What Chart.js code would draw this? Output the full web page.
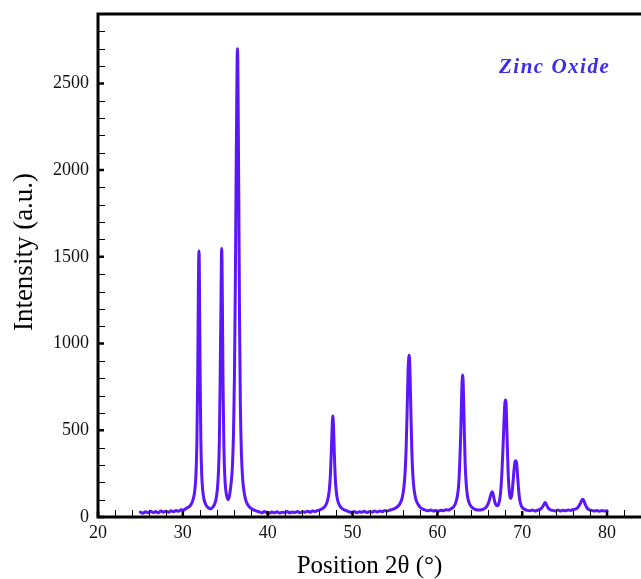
<!DOCTYPE html>
<html>
<head>
<meta charset="utf-8">
<title>Zinc Oxide XRD</title>
<script src="https://cdn.jsdelivr.net/npm/chart.js@4.4.1/dist/chart.umd.min.js"></script>
<style>
  html, body { margin: 0; padding: 0; background: #fff; }
  #wrap { position: relative; width: 641px; height: 579px; }
</style>
</head>
<body>
<div id="wrap"><canvas id="xrdChart"></canvas></div>
<script>
// Diffraction angle (2 theta, degrees)
var angles = [
  25.0, 25.3, 25.6, 25.9, 26.2, 26.5, 26.8, 27.1, 27.4, 27.7, 28.0, 28.3, 28.6, 28.9, 29.2, 29.5, 29.8, 30.1, 30.4, 30.7, 31.0, 31.2, 31.4,
  31.55, 31.65, 31.75, 31.82, 31.86, 31.9, 31.94, 31.98, 32.04, 32.12, 32.22, 32.35, 32.5, 32.7, 32.9, 33.1, 33.3, 33.5, 33.7, 33.9, 34.05,
  34.2, 34.3, 34.4, 34.5, 34.54, 34.58, 34.62, 34.67, 34.74, 34.84, 34.95, 35.05, 35.15, 35.25, 35.35, 35.45, 35.55, 35.7,
  35.85, 35.97, 36.08, 36.18, 36.27, 36.36, 36.4, 36.44, 36.48, 36.53, 36.6, 36.68, 36.78, 36.9, 37.05, 37.2, 37.4, 37.6, 37.85, 38.1, 38.4, 38.7,
  39.0, 39.3, 39.6, 39.9, 40.2, 40.5, 40.8, 41.1, 41.4, 41.7, 42.0, 42.3, 42.6, 42.9, 43.2, 43.5, 43.8, 44.1, 44.4, 44.7, 45.0, 45.3, 45.6, 45.9, 46.2, 46.5, 46.8, 47.05,
  47.25, 47.4, 47.5, 47.6, 47.64, 47.68, 47.72, 47.78, 47.86, 47.97, 48.1, 48.25, 48.45, 48.7, 49.0, 49.3,
  49.6, 49.9, 50.2, 50.5, 50.8, 51.1, 51.4, 51.7, 52.0, 52.3, 52.6, 52.9, 53.2, 53.5, 53.8, 54.1, 54.4, 54.7, 55.0, 55.3, 55.6, 55.85,
  56.05, 56.2, 56.32, 56.44, 56.55, 56.62, 56.67, 56.72, 56.79, 56.88, 56.98, 57.1, 57.25, 57.45, 57.7, 58.0, 58.3, 58.6,
  58.9, 59.2, 59.5, 59.8, 60.1, 60.4, 60.7, 61.0, 61.3, 61.6, 61.9, 62.15, 62.35,
  62.5, 62.62, 62.74, 62.85, 62.93, 62.98, 63.03, 63.1, 63.18, 63.28, 63.4, 63.55, 63.75, 64.0, 64.3, 64.6, 64.9, 65.2, 65.5, 65.8, 66.05, 66.25,
  66.4, 66.47, 66.56, 66.7, 66.85, 67.0, 67.15, 67.3, 67.45, 67.6,
  67.72, 67.83, 67.93, 67.99, 68.04, 68.09, 68.15, 68.23, 68.33, 68.45, 68.58, 68.68, 68.8, 68.93, 69.05, 69.15,
  69.25, 69.35, 69.45, 69.57, 69.7, 69.85, 70.05, 70.3, 70.6,
  70.9, 71.2, 71.5, 71.8, 72.1, 72.35, 72.55, 72.7, 72.85, 73.05, 73.3, 73.6,
  73.9, 74.2, 74.5, 74.8, 75.1, 75.4, 75.7, 76.0, 76.3, 76.6, 76.85, 77.0,
  77.14, 77.28, 77.45, 77.65, 77.9, 78.2, 78.5, 78.8, 79.1, 79.4, 79.7, 80.0
];

// Intensity (a.u.) at each angle above
var intensities = [
  28, 22, 30, 24, 33, 26, 31, 24, 35, 28, 33, 27, 36, 30, 38, 33, 42, 40, 50, 58, 75, 100, 150,
  250, 420, 800, 1250, 1460, 1534, 1450, 1180, 800, 450, 250, 150, 100, 72, 58, 50, 47, 55, 70, 100, 150,
  260, 430, 800, 1260, 1470, 1548, 1460, 1180, 760, 400, 230, 160, 125, 110, 100, 112, 140, 200,
  300, 480, 800, 1300, 1900, 2450, 2640, 2700, 2620, 2300, 1800, 1150, 650, 370, 220, 150, 100, 75, 58, 48, 40, 34,
  30, 24, 31, 26, 22, 29, 24, 30, 23, 28, 25, 31, 24, 29, 26, 32, 25, 30, 27, 33, 28, 34, 32, 38, 42, 50, 65, 95,
  150, 250, 380, 520, 565, 582, 562, 490, 360, 220, 140, 95, 68, 52, 42, 36,
  30, 26, 32, 25, 30, 27, 33, 26, 31, 28, 34, 29, 35, 31, 37, 34, 40, 44, 50, 60, 78, 110,
  170, 260, 400, 620, 850, 915, 933, 910, 800, 600, 400, 250, 160, 105, 75, 55, 45, 40,
  36, 40, 34, 38, 33, 39, 36, 42, 40, 48, 58, 80, 120,
  180, 290, 460, 680, 795, 818, 790, 660, 480, 300, 190, 120, 80, 60, 48, 42, 40, 42, 48, 60, 85, 120,
  142, 146, 135, 100, 75, 65, 68, 90, 140, 250,
  380, 520, 640, 668, 674, 660, 580, 430, 270, 160, 112, 108, 140, 210, 280, 318,
  324, 305, 240, 160, 100, 70, 52, 44, 38,
  36, 40, 35, 39, 44, 55, 72, 84, 72, 52, 42, 38,
  35, 40, 34, 39, 36, 41, 38, 43, 46, 58, 78, 95,
  102, 92, 70, 52, 42, 38, 34, 38, 33, 37, 34, 36
];

// tick labels
var xTickValues = [20, 30, 40, 50, 60, 70, 80];
var yTickValues = [0, 500, 1000, 1500, 2000, 2500];

var seriesLabel = 'Zinc Oxide';
var xAxisTitle = 'Position 2\u03B8 (\u00B0)';
var yAxisTitle = 'Intensity (a.u.)';
var xRange = [20, 84];
var yRange = [0, 2900];
var xMinorStep = 2;
var yMinorStep = 100;

var serif = '"Liberation Serif", "Times New Roman", serif';

// Khung, vạch chia hướng vào trong, nhãn
var framePlugin = {
  id: 'frame',
  afterDraw: function (chart) {
    var ctx = chart.ctx, a = chart.chartArea;
    var xs = chart.scales.x, ys = chart.scales.y;
    var v, p;
    ctx.save();
    ctx.strokeStyle = '#000';

    // minor ticks
    ctx.lineWidth = 1;
    ctx.beginPath();
    for (v = xRange[0] + xMinorStep; v < xRange[1]; v += xMinorStep) {
      if (xTickValues.indexOf(v) >= 0) continue;
      p = Math.round(xs.getPixelForValue(v)) + 0.5;
      ctx.moveTo(p, a.bottom);
      ctx.lineTo(p, a.bottom - 7);
    }
    for (v = yRange[0] + yMinorStep; v < yRange[1]; v += yMinorStep) {
      if (yTickValues.indexOf(v) >= 0) continue;
      p = Math.round(ys.getPixelForValue(v)) + 0.5;
      ctx.moveTo(a.left, p);
      ctx.lineTo(a.left + 7, p);
    }
    ctx.stroke();

    // major ticks
    ctx.lineWidth = 2.5;
    ctx.beginPath();
    xs.ticks.forEach(function (t) {
      p = xs.getPixelForValue(t.value);
      ctx.moveTo(p, a.bottom);
      ctx.lineTo(p, a.bottom - 6);
    });
    ys.ticks.forEach(function (t) {
      p = ys.getPixelForValue(t.value);
      ctx.moveTo(a.left, p);
      ctx.lineTo(a.left + 6, p);
    });
    ctx.stroke();

    // axis frame: left, bottom, top
    ctx.lineWidth = 3;
    ctx.beginPath();
    ctx.moveTo(a.right + 2, a.top);
    ctx.lineTo(a.left, a.top);
    ctx.lineTo(a.left, a.bottom);
    ctx.lineTo(a.right + 2, a.bottom);
    ctx.stroke();

    // y axis title
    ctx.fillStyle = '#000';
    ctx.font = '27px ' + serif;
    ctx.textAlign = 'center';
    ctx.textBaseline = 'middle';
    ctx.translate(25, 252);
    ctx.rotate(-Math.PI / 2);
    ctx.fillText(yAxisTitle, 0, 0);
    ctx.restore();

    // label inside the plot
    ctx.save();
    ctx.fillStyle = '#3a2df0';
    ctx.font = 'italic bold 21px ' + serif;
    ctx.letterSpacing = '1.5px';
    ctx.textAlign = 'left';
    ctx.textBaseline = 'alphabetic';
    ctx.fillText(seriesLabel, 499, 73);
    ctx.restore();
  }
};

var points = angles.map(function (x, i) {
  return { x: x, y: intensities[i] };
});

function fixedTicks(values) {
  return function (scale) {
    scale.ticks = values.map(function (v) { return { value: v }; });
  };
}

var ctx = document.getElementById('xrdChart').getContext('2d');
var xrdChart = new Chart(ctx, {
  type: 'line',
  data: {
    datasets: [{
      label: seriesLabel,
      data: points,
      borderColor: 'rgb(92, 22, 255)',
      borderWidth: 3,
      borderJoinStyle: 'round',
      borderCapStyle: 'round',
      cubicInterpolationMode: 'monotone',
      pointRadius: 0,
      fill: false
    }]
  },
  options: {
    responsive: true,
    maintainAspectRatio: false,
    animation: false,
    layout: { padding: { top: 14, right: 0, left: 0, bottom: 0 } },
    plugins: {
      legend: { display: false },
      tooltip: { enabled: false }
    },
    scales: {
      x: {
        type: 'linear',
        min: xRange[0],
        max: xRange[1],
        grid: { display: false, drawTicks: false },
        border: { display: false },
        afterBuildTicks: fixedTicks(xTickValues),
        ticks: {
          padding: 5,
          color: '#111',
          font: { family: serif, size: 18 },
          callback: function (v) { return String(v); }
        },
        title: {
          display: true,
          text: xAxisTitle,
          color: '#000',
          font: { family: serif, size: 25, lineHeight: 1 },
          padding: { top: 0, bottom: 0 }
        },
        afterFit: function (scale) {
          scale.height = 62;
          scale.paddingLeft = 0;
          scale.paddingRight = 0;
        }
      },
      y: {
        min: yRange[0],
        max: yRange[1],
        grid: { display: false, drawTicks: false },
        border: { display: false },
        afterBuildTicks: fixedTicks(yTickValues),
        ticks: {
          padding: 9,
          color: '#111',
          font: { family: serif, size: 18 },
          callback: function (v) { return String(v); }
        },
        afterFit: function (scale) {
          scale.width = 98;
          scale.paddingTop = 0;
          scale.paddingBottom = 0;
        }
      }
    }
  },
  plugins: [framePlugin]
});
</script>
</body>
</html>
